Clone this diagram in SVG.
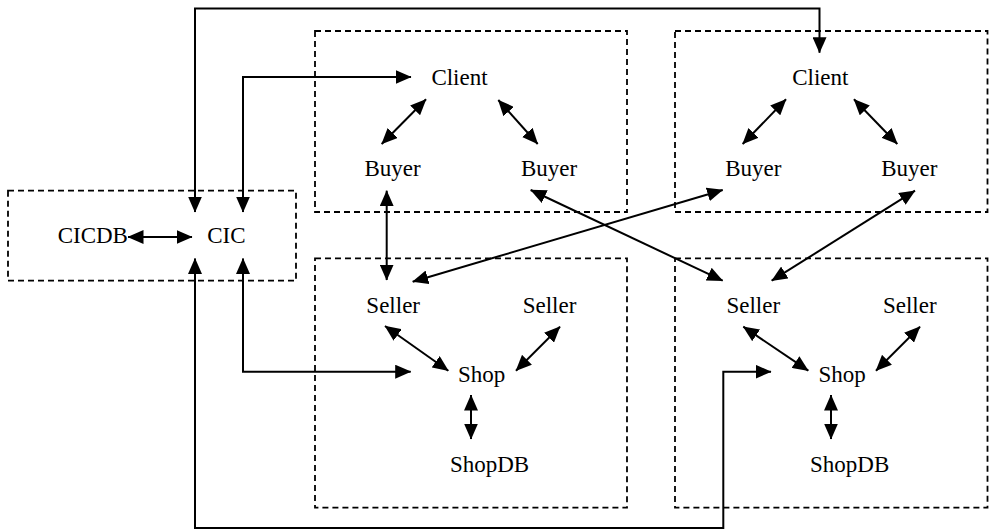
<svg xmlns="http://www.w3.org/2000/svg" width="989" height="530" viewBox="0 0 989 530">
  <style>
    .box { fill: none; stroke: #000; stroke-width: 1.8; stroke-dasharray: 6 4; }
    .lbl { font-family: "Liberation Serif", "Times New Roman", serif; font-size: 23px; fill: #000; text-anchor: middle; }
    .link { fill: none; stroke: #000; stroke-width: 2; marker-start: url(#head); marker-end: url(#head); }
  </style>
  <defs>
    <marker id="head" viewBox="0 0 16 14" refX="15.5" refY="7" markerWidth="16" markerHeight="14" markerUnits="userSpaceOnUse" orient="auto-start-reverse">
      <path d="M0,0 L16,7 L0,14 Z" fill="#000"/>
    </marker>
  </defs>

  <rect width="989" height="530" fill="#fff"/>

  <!-- dashed domain boxes -->
  <g id="domains">
    <rect id="cic-domain" class="box" x="8" y="190.7" width="288" height="90"/>
    <rect id="client-domain-1" class="box" x="315" y="31" width="312" height="181"/>
    <rect id="client-domain-2" class="box" x="675" y="31" width="312.5" height="181"/>
    <rect id="shop-domain-1" class="box" x="315" y="258.3" width="312" height="249.4"/>
    <rect id="shop-domain-2" class="box" x="675" y="258.3" width="312.5" height="249.4"/>
  </g>

  <!-- connectors -->
  <g id="connectors">
    <path class="link" d="M195,212 V8.5 H819.5 V52.7"/>
    <path class="link" d="M243,212 V77 H411"/>
    <path class="link" d="M195,258.5 V528 H723.3 V371.7 H771"/>
    <path class="link" d="M243,258.5 V371.7 H410.7"/>
    <path class="link" d="M128,237 H192"/>
    <path class="link" d="M381.7,144 L426,99.3"/>
    <path class="link" d="M498.3,100 L537.7,144"/>
    <path class="link" d="M742.7,144 L786,99.3"/>
    <path class="link" d="M854,99.3 L897.3,144"/>
    <path class="link" d="M386.7,190.7 V280"/>
    <path class="link" d="M412.7,281.7 L722.7,190"/>
    <path class="link" d="M530.7,190 L722.7,280.7"/>
    <path class="link" d="M915,190.7 L771.7,280.7"/>
    <path class="link" d="M385,326 L448.3,370.7"/>
    <path class="link" d="M560,326.7 L516,370.7"/>
    <path class="link" d="M471,395 V439"/>
    <path class="link" d="M743.3,326.7 L808.3,370.7"/>
    <path class="link" d="M920,326.7 L876,370.7"/>
    <path class="link" d="M831,395 V439"/>
  </g>

  <!-- nodes -->
  <g id="cicdb"><text class="lbl" x="92.8" y="243">CICDB</text></g>
  <g id="cic"><text class="lbl" x="226.3" y="243">CIC</text></g>

  <g id="client-1"><text class="lbl" x="459.5" y="85">Client</text></g>
  <g id="buyer-1a"><text class="lbl" x="392.5" y="176">Buyer</text></g>
  <g id="buyer-1b"><text class="lbl" x="549" y="176">Buyer</text></g>

  <g id="client-2"><text class="lbl" x="820.3" y="85">Client</text></g>
  <g id="buyer-2a"><text class="lbl" x="753.3" y="176">Buyer</text></g>
  <g id="buyer-2b"><text class="lbl" x="909.3" y="176">Buyer</text></g>

  <g id="seller-1a"><text class="lbl" x="393.2" y="312.7">Seller</text></g>
  <g id="seller-1b"><text class="lbl" x="549.5" y="312.7">Seller</text></g>
  <g id="shop-1"><text class="lbl" x="481.7" y="381.5">Shop</text></g>
  <g id="shopdb-1"><text class="lbl" x="489.5" y="471.7">ShopDB</text></g>

  <g id="seller-2a"><text class="lbl" x="753.3" y="312.7">Seller</text></g>
  <g id="seller-2b"><text class="lbl" x="909.8" y="312.7">Seller</text></g>
  <g id="shop-2"><text class="lbl" x="842.2" y="381.5">Shop</text></g>
  <g id="shopdb-2"><text class="lbl" x="849.7" y="471.7">ShopDB</text></g>
</svg>
